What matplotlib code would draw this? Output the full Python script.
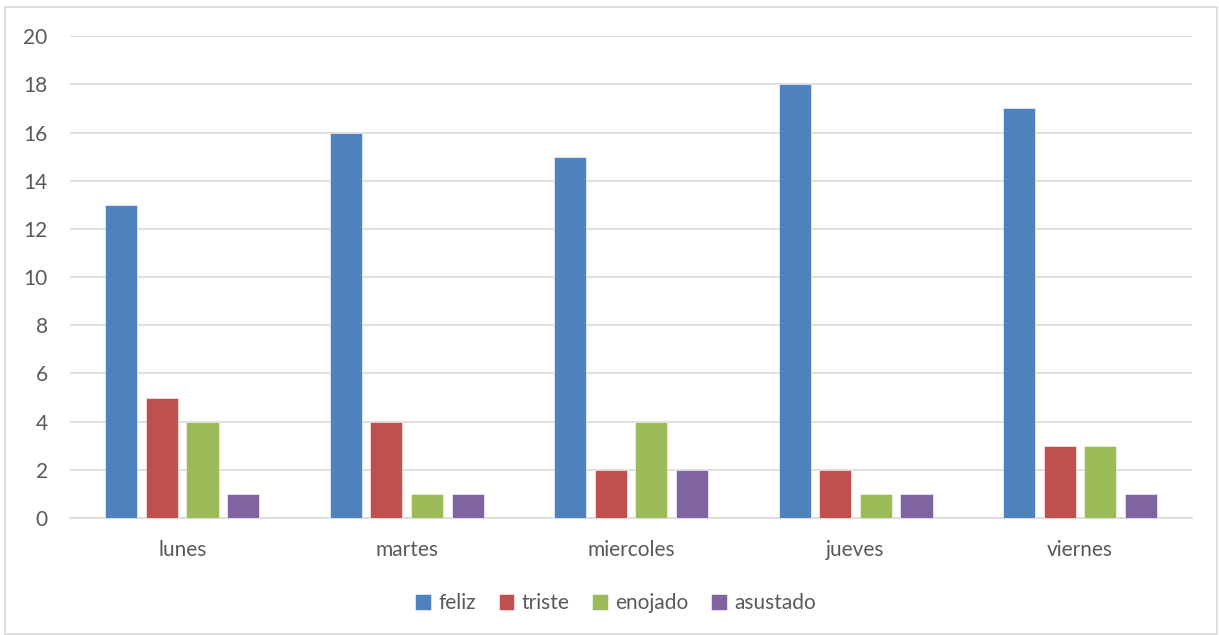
import matplotlib
matplotlib.use("Agg")
import matplotlib.pyplot as plt
import numpy as np
from matplotlib.patches import Rectangle

days = ["lunes", "martes", "miercoles", "jueves", "viernes"]
series_names = ["feliz", "triste", "enojado", "asustado"]
feliz = [13, 16, 15, 18, 17]
triste = [5, 4, 2, 2, 3]
enojado = [4, 1, 4, 1, 3]
asustado = [1, 1, 2, 1, 1]

colors = ["#4F81BD", "#C0504D", "#9BBB59", "#8064A2"]
text_color = "#595959"
grid_color = "#D9D9D9"

plt.rcParams["font.family"] = ["Lato", "DejaVu Sans"]

fig = plt.figure(figsize=(12.19, 6.35), dpi=100)
ax = fig.add_axes([0.0574, 0.1843, 0.9206, 0.7587])

x = np.arange(len(days))
bar_w = 0.143
step = 0.181
values = [feliz, triste, enojado, asustado]
for i, (name, vals) in enumerate(zip(series_names, values)):
    offset = (i - 1.5) * step
    ax.bar(x + offset, vals, width=bar_w, color=colors[i], label=name,
           zorder=3, edgecolor="white", linewidth=0.4)

ax.set_xlim(-0.5, len(days) - 0.5)
ax.set_ylim(0, 20)
ax.set_yticks(range(0, 21, 2))
ax.set_xticks(x)
ax.set_xticklabels(days)
ax.tick_params(axis="both", length=0, labelsize=15, colors=text_color)
ax.tick_params(axis="y", pad=16)
ax.tick_params(axis="x", pad=16)
ax.grid(axis="y", color=grid_color, linewidth=1.2, zorder=0)
for side in ["top", "right", "left"]:
    ax.spines[side].set_visible(False)
ax.spines["bottom"].set_color(grid_color)
ax.spines["bottom"].set_linewidth(1.2)

fig.legend(loc="center", bbox_to_anchor=(0.505, 0.05), ncol=4, frameon=False,
           fontsize=15, labelcolor=text_color, handlelength=0.75, handleheight=0.75,
           handletextpad=0.35, columnspacing=1.1)

fig.patches.append(Rectangle((0.004, 0.002), 0.994, 0.987, transform=fig.transFigure,
                             fill=False, edgecolor=grid_color, linewidth=1.2))

fig.savefig("out.png", dpi=100)
